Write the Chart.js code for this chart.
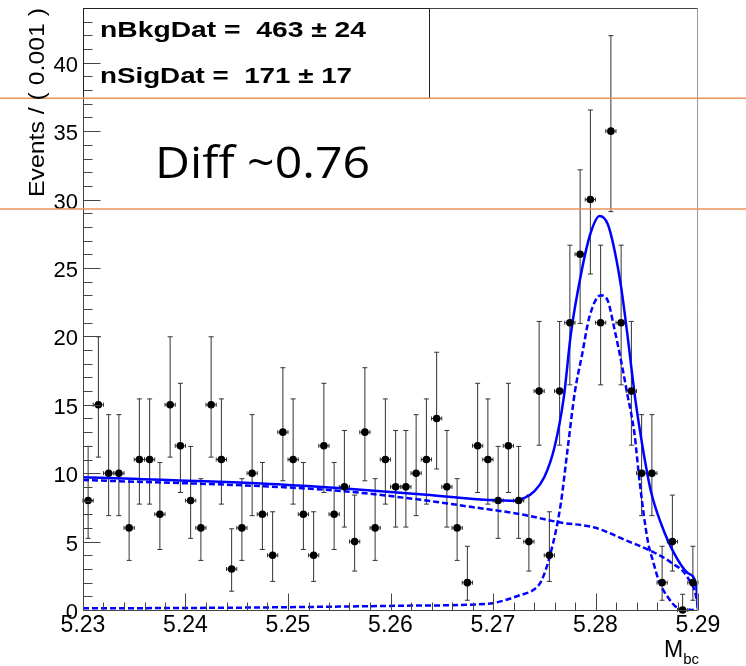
<!DOCTYPE html>
<html>
<head>
<meta charset="utf-8">
<script src="https://cdn.jsdelivr.net/npm/chart.js@4.4.1/dist/chart.umd.min.js"></script>
<style>
  html, body { margin: 0; padding: 0; background: #fff; }
</style>
</head>
<body>
<canvas id="mbc" width="746" height="666"></canvas>
<script>
// binning of the Mbc histogram
var xLow = 5.23, binWidth = 0.001;
var counts = [8, 15, 10, 10, 6, 11, 11, 7, 15, 12,
              8, 6, 15, 11, 3, 6, 10, 7, 4, 13,
              11, 7, 4, 12, 7, 9, 5, 13, 6, 11,
              9, 9, 10, 11, 14, 9, 6, 2, 12, 11,
              8, 12, 8, 5, 16, 4, 16, 21, 26, 30,
              21, 35, 21, 16, 10, 10, 2, 5, 0, 2];

// fit curves
var totX = [5.2300, 5.2474, 5.2552, 5.2635, 5.2681, 5.2711, 5.2721, 5.2730, 5.2740, 5.2750,
            5.2760, 5.2769, 5.2776, 5.2786, 5.2795, 5.2804, 5.2812, 5.2818, 5.2825, 5.2831,
            5.2839, 5.2846, 5.2854, 5.2864, 5.2877, 5.2890, 5.2898, 5.2900];
var totY = [9.70, 9.25, 8.90, 8.42, 8.12, 8.00, 7.98, 8.17, 8.65, 9.70,
            11.9, 15.5, 20.2, 24.6, 27.5, 28.8, 28.2, 26.5, 23.6, 20.2,
            15.3, 11.9, 8.7, 6.3, 4.1, 2.7, 1.9, 0];

var bkgX = [5.2300, 5.2474, 5.2552, 5.2630, 5.2678, 5.2727, 5.2766, 5.2799, 5.2831, 5.2854,
            5.2874, 5.2890, 5.2899, 5.2900];
var bkgY = [9.50, 9.05, 8.70, 8.05, 7.54, 7.00, 6.39, 6.03, 5.05, 4.32,
            3.46, 2.36, 0.66, 0];

var sigX = [5.2300, 5.2450, 5.2550, 5.2620, 5.2695, 5.2727, 5.2740, 5.2747, 5.2756, 5.2766,
            5.2773, 5.2780, 5.2787, 5.2794, 5.2805, 5.2812, 5.2818, 5.2825, 5.2831, 5.2838,
            5.2843, 5.2851, 5.2856, 5.2862, 5.2870, 5.2880, 5.2896];
var sigY = [0.12, 0.17, 0.25, 0.32, 0.46, 1.10, 1.50, 2.10, 4.10, 7.70,
            11.9, 16.0, 18.7, 21.4, 23.0, 22.6, 20.7, 18.2, 15.8, 12.9,
            9.4, 5.05, 3.6, 2.1, 1.0, 0.17, 0];

var xTicks = [5.23, 5.24, 5.25, 5.26, 5.27, 5.28, 5.29];
var yTicks = [0, 5, 10, 15, 20, 25, 30, 35, 40];
var refLines = [37.4, 29.3];
var statLines = ['nBkgDat =  463 \u00b1 24', 'nSigDat =  171 \u00b1 17'];
var diffLabel = 'Diff ~0.76';

// poisson (gehrels) interval, like RooFit draws for event counts
function poisLo(n) {
  if (n === 0) return 0;
  var a = 1 - 1 / (9 * n) - 1 / (3 * Math.sqrt(n));
  return n * a * a * a;
}
function poisHi(n) {
  if (n === 0) return 1.15;
  return n + 1 + Math.sqrt(n + 0.75);
}

function pairs(xs, ys) {
  return xs.map(function (x, i) { return { x: x, y: ys[i] }; });
}

var dataPts = counts.map(function (n, i) {
  return { x: xLow + (i + 0.5) * binWidth, y: n };
});

function fitText(ctx, txt, x, y, w) {
  var m = ctx.measureText(txt).width;
  ctx.save();
  ctx.translate(x, y);
  ctx.scale(w / m, 1);
  ctx.fillText(txt, 0, 0);
  ctx.restore();
}

var errorBars = {
  id: 'errorBars',
  beforeDatasetsDraw: function (chart) {
    var ctx = chart.ctx, xs = chart.scales.x, ys = chart.scales.y;
    ctx.save();
    ctx.strokeStyle = '#333';
    ctx.lineWidth = 1;
    dataPts.forEach(function (p) {
      var px = xs.getPixelForValue(p.x);
      var py = ys.getPixelForValue(p.y);
      var top = ys.getPixelForValue(poisHi(p.y));
      var bot = ys.getPixelForValue(poisLo(p.y));
      var l = xs.getPixelForValue(p.x - binWidth / 2);
      var r = xs.getPixelForValue(p.x + binWidth / 2);
      ctx.beginPath();
      ctx.moveTo(px, top); ctx.lineTo(px, bot);
      ctx.moveTo(px - 2.5, top); ctx.lineTo(px + 2.5, top);
      if (p.y > 0) { ctx.moveTo(px - 2.5, bot); ctx.lineTo(px + 2.5, bot); }
      ctx.moveTo(l, py); ctx.lineTo(r, py);
      ctx.moveTo(l, py - 2); ctx.lineTo(l, py + 2);
      ctx.moveTo(r, py - 2); ctx.lineTo(r, py + 2);
      ctx.stroke();
    });
    ctx.restore();
  }
};

var rootFrame = {
  id: 'rootFrame',
  afterDraw: function (chart) {
    var ctx = chart.ctx, a = chart.chartArea, xs = chart.scales.x, ys = chart.scales.y;
    var L = Math.round(a.left) + 0.5, R = Math.round(a.right) - 0.5;
    var T = Math.round(a.top) + 0.5, B = Math.round(a.bottom) + 0.5;
    ctx.save();
    ctx.lineWidth = 1;

    // frame
    ctx.strokeStyle = '#999';
    ctx.beginPath(); ctx.moveTo(R, T); ctx.lineTo(R, B); ctx.stroke();
    ctx.strokeStyle = '#444';
    ctx.beginPath();
    ctx.moveTo(L, T); ctx.lineTo(R, T);
    ctx.moveTo(L, T); ctx.lineTo(L, B);
    ctx.moveTo(L, B); ctx.lineTo(R, B);
    ctx.stroke();

    // inward ticks
    ctx.beginPath();
    for (var v = 0; v <= 44; v++) {
      var py = Math.round(ys.getPixelForValue(v)) + 0.5;
      var len = v % 5 === 0 ? 17 : 9;
      ctx.moveTo(L, py); ctx.lineTo(L + len, py);
    }
    for (var i = 0; i <= 30; i++) {
      var px = Math.round(xs.getPixelForValue(xLow + i * 0.002)) + 0.5;
      var ln = i % 5 === 0 ? 17 : 8;
      ctx.moveTo(px, B); ctx.lineTo(px, B - ln);
    }
    ctx.stroke();

    // stats box
    ctx.strokeStyle = '#222';
    ctx.strokeRect(L, T, 346, 90);
    ctx.fillStyle = '#000';
    ctx.font = 'bold 22px "Liberation Sans", Arial, sans-serif';
    ctx.textBaseline = 'alphabetic';
    fitText(ctx, statLines[0], 100, 37, 266);
    fitText(ctx, statLines[1], 100, 83, 252);

    // big note
    ctx.font = '44px "Open Sans", "Noto Sans", sans-serif';
    fitText(ctx, diffLabel, 155, 178, 215);

    // orange reference lines across the whole canvas
    ctx.strokeStyle = '#e8935e';
    ctx.lineWidth = 1.5;
    refLines.forEach(function (val) {
      var y = ys.getPixelForValue(val);
      ctx.beginPath(); ctx.moveTo(0, y); ctx.lineTo(chart.width, y); ctx.stroke();
    });

    // axis titles
    ctx.fillStyle = '#000';
    ctx.font = '22px "Liberation Sans", Arial, sans-serif';
    ctx.save();
    ctx.translate(44, 197);
    ctx.rotate(-Math.PI / 2);
    fitText(ctx, 'Events / ( 0.001 )', 0, 0, 189);
    ctx.restore();

    ctx.font = '23px "Liberation Sans", Arial, sans-serif';
    ctx.fillText('M', 664, 657);
    var mw = ctx.measureText('M').width;
    ctx.font = '15px "Liberation Sans", Arial, sans-serif';
    ctx.fillText('bc', 664 + mw, 664);
    ctx.restore();
  }
};

var mbcChart = new Chart(document.getElementById('mbc').getContext('2d'), {
  type: 'scatter',
  data: {
    datasets: [
      {
        type: 'scatter',
        label: 'data',
        data: dataPts,
        pointRadius: 3.8,
        pointBackgroundColor: '#000',
        pointBorderColor: '#000',
        pointBorderWidth: 0,
        clip: false,
        order: 0
      },
      {
        type: 'line',
        label: 'total',
        data: pairs(totX, totY),
        borderColor: '#0000ff',
        borderWidth: 2.5,
        pointRadius: 0,
        fill: false,
        cubicInterpolationMode: 'monotone',
        order: 1
      },
      {
        type: 'line',
        label: 'background',
        data: pairs(bkgX, bkgY),
        borderColor: '#0000ff',
        borderWidth: 2.5,
        borderDash: [6, 3],
        pointRadius: 0,
        fill: false,
        cubicInterpolationMode: 'monotone',
        order: 2
      },
      {
        type: 'line',
        label: 'signal',
        data: pairs(sigX, sigY),
        borderColor: '#0000ff',
        borderWidth: 2.5,
        borderDash: [6, 3],
        pointRadius: 0,
        fill: false,
        cubicInterpolationMode: 'monotone',
        order: 3
      }
    ]
  },
  options: {
    responsive: false,
    animation: false,
    devicePixelRatio: 1,
    layout: { padding: { left: 0, top: 8, right: 48, bottom: 0 } },
    plugins: { legend: { display: false }, tooltip: { enabled: false } },
    scales: {
      x: {
        type: 'linear',
        min: 5.23,
        max: 5.29,
        grid: { display: false, drawTicks: false },
        border: { display: false },
        afterBuildTicks: function (s) { s.ticks = xTicks.map(function (v) { return { value: v }; }); },
        ticks: {
          callback: function (v) { return Number(v).toFixed(2); },
          font: { family: '"Liberation Sans", Arial, sans-serif', size: 23 },
          color: '#000',
          padding: 2,
          maxRotation: 0,
          autoSkip: false
        },
        afterFit: function (s) { s.height = 56; s.paddingLeft = 0; s.paddingRight = 0; }
      },
      y: {
        min: 0,
        max: 44,
        grid: { display: false, drawTicks: false },
        border: { display: false },
        afterBuildTicks: function (s) { s.ticks = yTicks.map(function (v) { return { value: v }; }); },
        ticks: {
          font: { family: '"Liberation Sans", Arial, sans-serif', size: 22 },
          color: '#000',
          padding: 5,
          labelOffset: 3
        },
        afterFit: function (s) { s.width = 83; s.paddingTop = 0; s.paddingBottom = 0; }
      }
    }
  },
  plugins: [errorBars, rootFrame]
});
</script>
</body>
</html>
